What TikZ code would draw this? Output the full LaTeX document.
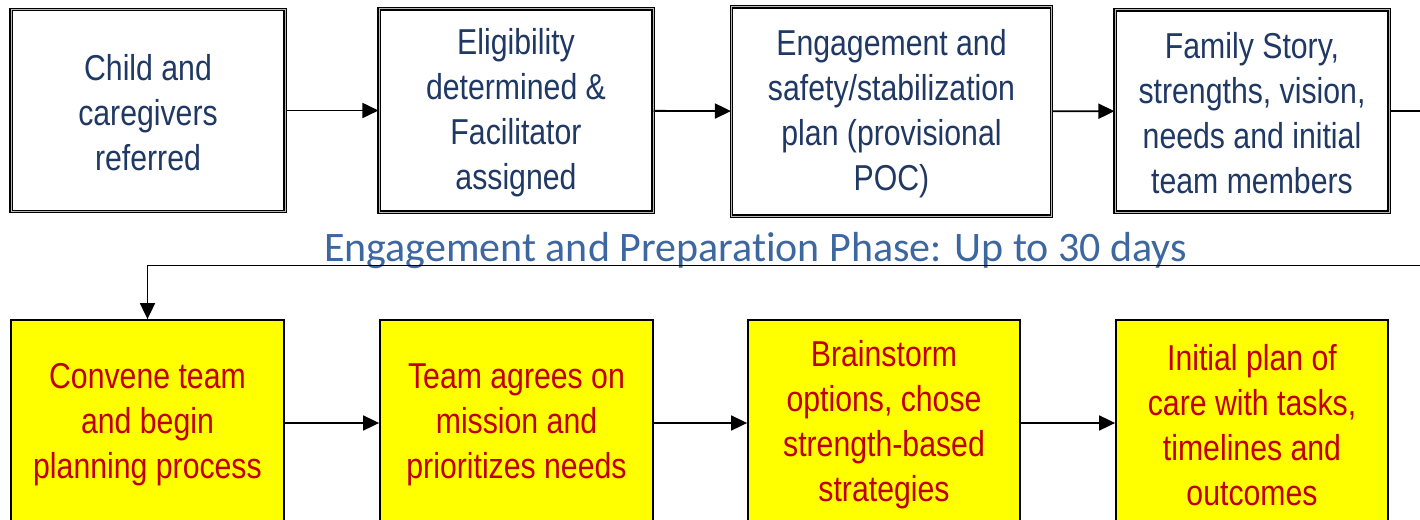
\documentclass[tikz,border=0pt]{standalone}
\usepackage{fontspec}
\newfontfamily\boxfont[FakeStretch=0.84]{Liberation Sans}
\newfontfamily\titlefont[Ligatures=NoCommon]{Carlito}
\usetikzlibrary{arrows.meta}
\definecolor{navy}{HTML}{1F3864}
\definecolor{darkred}{HTML}{C00000}
\definecolor{titleblue}{HTML}{3C67A0}
\definecolor{yel}{HTML}{FFFF00}
\begin{document}
\begin{tikzpicture}[x=1pt,y=-1pt,
  topbox/.style={draw=black, line width=1.1pt, double=gray!55, double distance=1pt,
    fill=white, inner sep=0pt},
  toptext/.style={text=navy, font=\boxfont\fontsize{36}{45}\selectfont,
    align=center, inner sep=0pt, yshift=-2pt},
  botbox/.style={draw=black, line width=1.8pt, fill=yel, inner sep=0pt},
  bottext/.style={text=darkred, font=\boxfont\fontsize{36}{45}\selectfont,
    align=center, inner sep=0pt, yshift=-2pt},
  conn/.style={line width=1.8pt, -{Triangle[length=16pt,width=15pt]}}]
\useasboundingbox (0,0) rectangle (1420,519);
\clip (0,0) rectangle (1420,519);

\node[topbox, minimum width=274pt, minimum height=202pt,
  label={[toptext]center:{Child and\\caregivers\\referred}}] (b1) at (148,110.5) {};
\node[topbox, minimum width=274pt, minimum height=203pt,
  label={[toptext]center:{Eligibility\\determined \&\\Facilitator\\assigned}}] (b2) at (516,110.5) {};
\node[topbox, minimum width=320pt, minimum height=209pt,
  label={[toptext]center:{Engagement and\\safety/stabilization\\plan (provisional\\POC)}}] (b3) at (891.5,111.5) {};
\node[topbox, minimum width=274pt, minimum height=202pt,
  label={[toptext]center:{Family Story,\\strengths, vision,\\needs and initial\\team members}}] (b4) at (1252,111) {};

\node[botbox, minimum width=273pt, minimum height=206pt,
  label={[bottext]center:{Convene team\\and begin\\planning process}}] (b5) at (147.5,423) {};
\node[botbox, minimum width=273pt, minimum height=206pt,
  label={[bottext]center:{Team agrees on\\mission and\\prioritizes needs}}] (b6) at (516.5,423) {};
\node[botbox, minimum width=272pt, minimum height=206pt,
  label={[bottext]center:{Brainstorm\\options, chose\\strength-based\\strategies}}] (b7) at (884,423) {};
\node[botbox, minimum width=272pt, minimum height=206pt,
  label={[bottext]center:{Initial plan of\\care with tasks,\\timelines and\\outcomes}}] (b8) at (1252,423) {};

\node[anchor=base, text=titleblue, font=\titlefont\fontsize{42}{48}\selectfont, inner sep=0pt]
  (title) at (755.5,261) {Engagement and Preparation Phase: Up to 30 days};

\draw[conn] (b1) -- (b2);
\draw[conn] (b2) -- (b3);
\draw[conn] (b3) -- (b4);
\coordinate (turn) at (1432,265.5);
\draw[conn] (b4.east) -| (turn) -| (b5.north);
\draw[conn] (b5) -- (b6);
\draw[conn] (b6) -- (b7);
\draw[conn] (b7) -- (b8);
\end{tikzpicture}
\end{document}
